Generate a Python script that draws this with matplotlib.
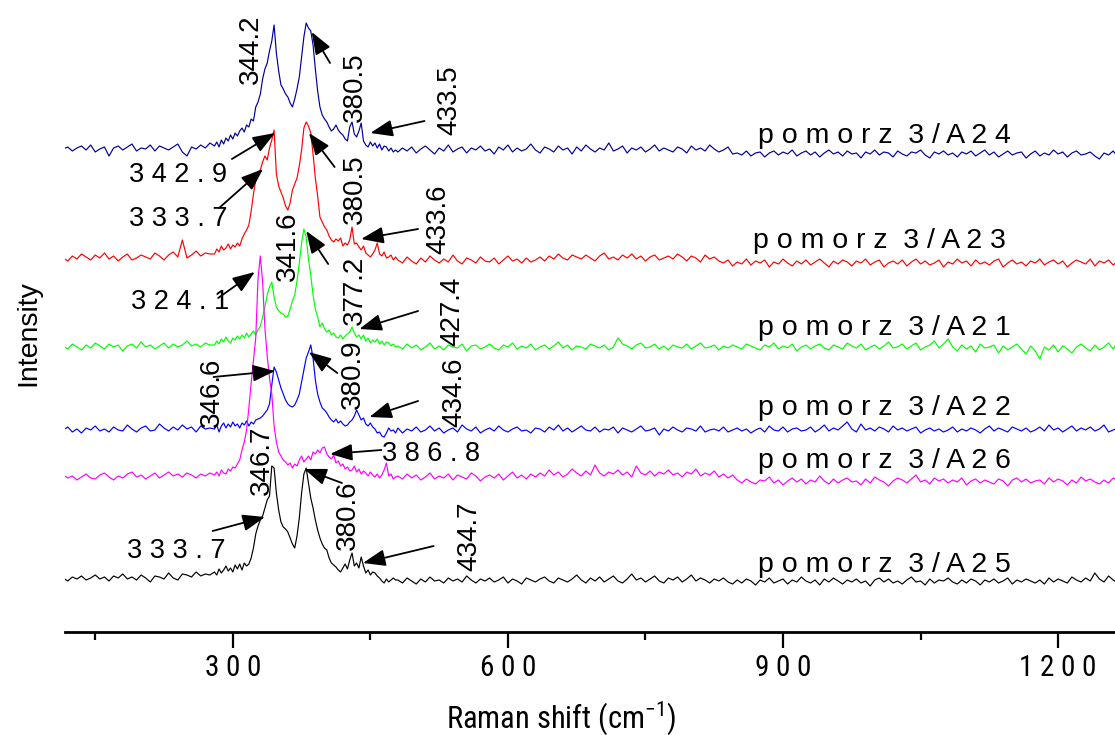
import numpy as np
import matplotlib
matplotlib.use("Agg")
import matplotlib.pyplot as plt
from matplotlib import font_manager

# pick a condensed face for the axis text if one is installed
_names = {f.name for f in font_manager.fontManager.ttflist}
NARROW, NARROW_SIZE = "Liberation Sans", 19
for cand in ("Liberation Sans Narrow", "DejaVu Sans Condensed", "Roboto Condensed", "Open Sans Condensed"):
    if cand in _names:
        NARROW, NARROW_SIZE = cand, 21
        break
plt.rcParams["font.family"] = ["Liberation Sans", "DejaVu Sans"]
plt.rcParams["mathtext.default"] = "regular"

# wavenumber sampling (cm-1): coarse baseline, finer around the bands
X_LEFT = np.arange(115, 276, 5)
X_PEAK = np.arange(280, 478, 2.5)
X_RIGHT = np.arange(480, 1266, 5)
WAVENUMBER = np.concatenate([X_LEFT, X_PEAK, X_RIGHT])

# intensities (a.u.) above each spectrum's own baseline
A24 = [0, 2, -2, 1, 3, -1, 4, -3, 0, 2, -7, 1, 3, -1, 2, 5, -2, 1, 0, 4, -2, 3, 1, -1, 2, 5, -3, -7, 2, 0, 4, 1, 6,
       3, 7, 2, 9, 5, 11, 8, 14, 10, 16,
       13, 18, 21, 17, 24, 22, 30, 28, 42, 47,
       55, 70, 80, 86, 98, 108, 124, 96, 78, 64,
       60, 55, 52, 46, 42, 50, 60, 72, 92, 112,
       126, 121, 118, 104, 80, 58, 42, 34, 30, 27,
       22, 18, 20, 24, 19, 16, 14, 10, 8, 22,
       27, 15, 12, 18, 26, 8, 4, 2, 7, 3,
       6, 1, 5, -1, 3, 2, -2, 1, -3, -1,
       -3, 1, -2, 2, -4, 0, 3, -1, -5, 1, -2, 4, -3, 0, 2, -4, 1, -1, 3, -2,
       0, -5, 2, -1, 4, -3, 1, -2, 0, 5, -1, -4, 2, 0, -3, 3, -1, 1, -5, 2,
       -2, 4, 0, -3, 1, -1, 6, -2, 0, 3, -4, 1, -1, 2, -3, 0, 4, -2, 1, -1,
       -3, 2, 0, -4, 3, -1, 1, -2, 4, 0, -3, -1, 2, -5, -4, -6, -2, -7, -4, -3,
       -8, -4, -2, -6, -3, -5, -1, -7, -4, -2, -6, -3, -8, -4, -1, -5, -3, -7, -2, -5,
       -4, -9, -3, -5, -1, -6, -3, -4, -8, -2, -5, -7, -3, -4, -1, -6, -9, -3, -5, -2,
       -6, -4, -8, -3, -5, -2, -7, -4, -1, -6, -3, -8, -5, -2, -6, -4, -3, -9, -5, -2,
       -7, -4, -6, -1, -5, -3, -8, -4, -2, -6, -5, -3, -7, -10, -4, -6, -2, -8]
A23 = [0, -3, 2, -1, 4, 1, -2, 3, 0, 5, -1, 2, -3, 1, 4, -2, 0, 3, 1, -1, 5, 2, -2, 3, 6, 1, 18, 0, 3, 7, 2, 5, 4,
       4, 9, 6, 12, 8, 10, 14, 9, 13, 11,
       15, 12, 19, 24, 28, 33, 47, 64, 78, 86,
       88, 96, 102, 98, 110, 118, 128, 84, 72, 66,
       60, 52, 48, 55, 68, 74, 80, 92, 108, 130,
       136, 132, 125, 104, 80, 62, 41, 36, 31, 28,
       22, 18, 16, 19, 17, 20, 12, 15, 13, 18,
       31, 14, 15, 11, 8, 12, 5, 3, 1, 4,
       8, 15, 4, 2, 6, 0, 1, 3, -2, 1,
       -2, -5, 1, -3, -6, 0, -4, 2, -2, -5, -1, -4, 3, -3, -6, 0, -2, -5, 1, -3,
       -4, 0, -6, -2, 2, -3, -1, -5, 0, -4, -2, 1, -3, 2, -1, 4, 0, -2, 3, 1,
       -1, 3, 0, -3, 2, 5, -1, 1, -2, 3, 0, 4, -1, 2, -3, 1, 3, -2, 0, 2,
       -1, 4, 1, -3, 2, 0, -4, 3, -1, 1, -3, -5, -2, -8, -4, -6, -1, -7, -3, -5,
       -2, -9, -4, -6, -1, -5, -8, -3, -6, -2, -7, -4, -1, -5, -9, -3, -6, -2, -4, -8,
       -3, -5, -1, -7, -4, -2, -9, -5, -3, -6, -2, -8, -4, -1, -6, -3, -7, -5, -2, -9,
       -4, -6, -1, -5, -3, -8, -2, -6, -4, -7, -3, -1, -9, -5, -2, -6, -4, -8, -3, -5,
       -1, -7, -4, -2, -6, -3, -9, -5, -2, -4, -6, -1, -8, -3, -5, -2, -7, -3]
A21 = [1, -2, 3, 0, -3, 2, -1, 4, 1, -2, 3, 0, 2, -4, 1, 3, -1, 5, 0, 2, -2, 1, 4, -1, 3, 0, 2, 6, 1, 3, 0, 4, 2,
       2, 6, 3, 8, 5, 10, 6, 4, 9, 7,
       11, 8, 12, 9, 14, 10, 13, 16, 12, 17,
       21, 30, 40, 52, 60, 65, 50, 40, 36, 34,
       33, 30, 31, 38, 46, 52, 66, 84, 104, 118,
       110, 88, 72, 52, 38, 30, 20, 24, 18, 15,
       17, 12, 14, 10, 9, 12, 8, 11, 13, 15,
       20, 14, 10, 12, 8, 12, 6, 9, 4, 7,
       5, 8, 3, 6, 2, 5, 4, 1, 3, 0,
       1, -2, 3, -1, 2, -3, 0, 4, -2, 1, -3, 2, 0, -1, 3, -4, 1, 2, -2, 0,
       3, -1, -3, 2, 0, 4, -2, 1, -1, 3, -3, 0, 2, -2, 1, 5, -1, 2, -3, 1,
       0, -2, 3, 1, -1, 2, -3, 0, 9, 3, 1, -2, 2, 4, -1, 0, 3, -2, 1, -3,
       2, 0, -1, 3, -2, 1, 4, -1, 0, 2, -3, 1, -1, 2, 0, -2, 3, 1, -1, -3,
       2, 0, 4, -2, 1, -1, 3, -4, 0, 2, -2, 1, 3, -1, -3, 2, 0, -2, 4, 1,
       -1, 3, -3, 0, 2, -2, 1, 5, -1, 0, 3, -2, 1, 4, -3, 0, 2, 6, -1, 3,
       8, 0, -4, 2, -2, 1, -5, 3, -1, 0, 2, -6, 1, -3, 0, 3, -2, -7, 1, -4,
       -12, 0, -3, 2, -5, 1, -2, -6, 0, 3, -1, -4, 2, -3, 0, 4, -2, 5]
A22 = [0, 3, -2, 1, -3, 2, 0, 4, -1, 1, -2, 3, 0, -1, 5, 1, -2, 2, 4, -1, 0, 6, 2, -1, 3, 0, 5, 1, 3, -2, 4, 1, 2,
       1, 5, -2, 4, 7, 2, 6, 3, 8, 4,
       6, 2, 7, 5, 9, 4, 8, 6, 10, 11,
       12, 14, 17, 20, 26, 45, 63, 58, 50, 42,
       36, 30, 26, 24, 23, 25, 30, 36, 48, 60,
       72, 78, 85, 72, 50, 36, 28, 22, 20, 17,
       13, 10, 8, 11, 7, 9, 6, 4, 5, 8,
       10, 14, 20, 15, 10, 12, 6, 4, 7, 3,
       1, -3, -2, -6, -7, -3, 2, -1, 0, -3,
       2, -3, 1, -1, 3, -2, 0, 4, -1, 2, -3, 0, 2, -2, 5, 1, -1, 3, -3, 0,
       2, -1, 4, 0, -2, 1, 3, -1, 0, -3, 2, 1, -2, 3, 0, 5, -1, 2, -2, 1,
       4, 0, -1, 3, -2, 1, 0, 3, -3, 2, 0, -2, 1, 4, -1, 0, 2, -5, 1, -1,
       3, 0, -2, 2, 1, -1, 4, -2, 0, 1, -1, 3, -2, 0, 2, -1, 1, -3, 0, 2,
       -2, 4, 0, -1, 3, -2, 1, 2, -1, 0, 3, -2, 1, 5, -1, 2, 0, 4, 8, 1,
       -2, 6, 0, 2, -1, 3, 1, -2, 4, 0, 2, -1, 1, 3, -3, 0, 2, -1, 1, -2,
       0, 3, -2, 1, -1, 2, 0, -3, 1, 4, -1, 2, 0, -2, 3, 1, -1, 2, -2, 0,
       3, -1, 5, 0, 2, -2, 1, 4, -1, 2, 0, 3, -1, 1, 5, -2, 0, 2]
A26 = [3, 0, 2, -2, 1, 4, 0, -1, 3, 5, 1, -2, 2, 0, 4, 6, 1, 3, -1, 2, 5, 0, 3, 6, 2, 4, 1, 5, 3, 0, 4, 2, 5,
       3, 6, 2, 8, 5, 4, 9, 7, 11, 10,
       14, 18, 28, 36, 48, 70, 95, 118, 140, 200,
       222, 196, 150, 122, 100, 84, 52, 36, 26, 22,
       18, 16, 13, 15, 10, 14, 12, 18, 22, 16,
       19, 22, 18, 26, 24, 28, 25, 30, 31, 24,
       21, 19, 23, 15, 17, 12, 14, 9, 11, 7,
       8, 12, 6, 9, 4, 7, 5, 2, 6, 3,
       1, 4, 0, 3, 8, 15, 2, 4, -1, 1,
       2, -1, 4, 0, 3, -2, 1, 5, -1, 2, 0, 4, -2, 3, 1, -1, 5, 2, -3, 1,
       3, 0, 4, -2, 2, 6, 0, 3, -1, 4, 1, 5, 2, 8, 3, 6, 1, 4, 9, 5,
       2, 7, 3, 13, 5, 2, 6, 4, 8, 3, 6, 1, 12, 5, 3, 7, 2, 6, 4, 8,
       3, 5, 1, 6, 4, 9, 2, 5, 3, 7, 1, 4, 0, 3, -2, -5, -1, -4, -6, -2,
       -3, 1, -5, -2, -7, -3, 0, -4, -1, -6, -2, -4, 2, -3, -6, -1, -5, -2, 0, -4,
       -3, -7, -1, -5, 1, -2, -4, -8, -3, 0, -2, -5, -1, 3, -4, -2, -6, 0, -3, -1,
       -5, -2, -4, 0, -7, -3, -1, -5, -2, -4, -6, -1, -3, -8, -2, 0, -4, -1, -5, -3,
       -2, -6, 0, -4, -1, -3, -7, -2, -5, 1, -3, -1, -4, -6, -2, -5, 0, -3]
A25 = [0, -3, 1, -1, 2, -2, 0, 3, -1, 1, -3, 2, 0, 4, -1, 1, -2, 3, 0, -4, 2, 1, -1, 5, 0, -2, 4, 3, 1, 6, 2, 4, 3,
       6, 3, 9, 5, 8, 12, 7, 10, 6, 13,
       9, 14, 8, 15, 12, 14, 20, 30, 44, 52,
       58, 62, 70, 78, 82, 112, 110, 85, 68, 56,
       51, 49, 46, 40, 34, 30, 42, 60, 85, 104,
       110, 95, 80, 70, 58, 48, 40, 34, 30, 28,
       20, 15, 13, 11, 8, 6, 10, 14, 9, 18,
       25, 12, 15, 10, 21, 12, 5, 8, 3, 6,
       5, 2, 0, -3, -5, -1, -4, -2, 0, -2,
       -2, -5, 0, -3, -6, -1, -4, 1, -3, -2, -5, 0, -3, -1, -4, 2, -2, -5, -1, -3,
       0, -4, -2, 1, -5, -1, -3, -6, 0, -2, -4, -1, 1, -3, -5, 0, -2, -4, -1, 3,
       -2, -5, 0, -3, 1, -4, -1, 2, -3, -5, -1, 4, -2, 0, -4, -1, 2, -3, -5, 0,
       -2, 1, -4, -1, 3, -3, 0, -2, -5, -1, -3, 0, -4, -6, -2, -5, -1, -3, -7, -2,
       -4, 0, -5, -3, -1, -6, -2, -4, 1, -3, -5, -2, -7, -1, -4, 0, -3, -6, -2, -4,
       -1, -5, -3, -8, -2, 0, -4, -1, -5, -3, -6, -2, 1, -4, -3, -7, -1, -5, -2, -3,
       0, -4, -6, -2, -5, -1, -3, -7, -2, -4, -1, -5, -3, 0, -6, -2, -4, -1, -3, -5,
       -2, -6, 0, -4, -1, -3, -5, 1, -2, -4, 0, -3, 5, -1, -4, 2, -2, -5]

SAMPLES = ["pomorz 3/A24", "pomorz 3/A23", "pomorz 3/A21", "pomorz 3/A22", "pomorz 3/A26", "pomorz 3/A25"]
SPECTRA = [A24, A23, A21, A22, A26, A25]
OFFSETS = [483, 374, 285, 202, 154, 54]
COLORS = ["#000099", "#ff0000", "#00ff00", "#0000ff", "#ff00ff", "#000000"]
# sample label anchor (centre x in cm-1, baseline y)
LABEL_POS = [(1011, 489), (1005, 384), (1011, 297), (1011, 217), (1011, 164), (1011, 60)]

# band labels: (text, text xy, arrow head xy or None, arrow tail xy, rotated?)
BANDS = [
    ("344.2", (320, 583), None, None, True),
    ("380.5", (433, 545), (386, 600), (406, 569), True),
    ("433.5", (536, 532), (450, 499), (509, 511), True),
    ("342.9", (240, 457), (346, 499), (299, 473), False),
    ("333.7", (241, 413), (333, 463), (285, 424), False),
    ("380.5", (433, 443), (383, 499), (411, 465), True),
    ("433.6", (524, 413), (440, 393), (502, 403), True),
    ("341.6", (360, 386), None, None, True),
    ("377.2", (433, 342), (380, 401), (404, 368), True),
    ("324.1", (243, 330), (324, 360), (284, 334), False),
    ("427.4", (539, 321), (438, 303), (502, 321), True),
    ("346.6", (277, 240), (346, 261), (279, 255), True),
    ("380.9", (431, 258), (383, 280), (414, 259), True),
    ("434.6", (542, 240), (449, 215), (502, 231), True),
    ("386.8", (516, 178), (406, 178), (462, 182), False),
    ("346.7", (332, 172), None, None, True),
    ("380.6", (426, 117), (378, 163), (419, 149), True),
    ("333.7", (238, 81), (335, 115), (278, 101), False),
    ("434.7", (558, 96), (442, 69), (519, 86), True),
]


def spaced(s):
    return " ".join(s)


fig = plt.figure(figsize=(11.15, 7.35), dpi=100)
ax = fig.add_axes([65 / 1115, 103 / 735, 1050 / 1115, 632 / 735])

for vals, off, col in zip(SPECTRA, OFFSETS, COLORS):
    ax.plot(WAVENUMBER, np.asarray(vals) + off, color=col, lw=0.85)

for name, (lx, ly) in zip(SAMPLES, LABEL_POS):
    word, code = name.split(" ")
    ax.text(lx, ly, spaced(word) + "  " + spaced(code), ha="center", va="baseline",
            fontsize=20.5)

for label, txy, head, tail, rot in BANDS:
    if rot:
        ax.text(txy[0], txy[1], label, rotation=90, ha="center", va="center", fontsize=20)
    else:
        ax.text(txy[0], txy[1], spaced(label), ha="center", va="center", fontsize=19.5)
    if head is not None:
        ax.annotate("", xy=head, xytext=tail,
                    arrowprops=dict(arrowstyle="-|>,head_length=0.85,head_width=0.32",
                                    mutation_scale=16, color="black", lw=1.3,
                                    shrinkA=0, shrinkB=0))

ax.set_xlim(117, 1262)
ax.set_ylim(0, 632)
for side in ("left", "right", "top"):
    ax.spines[side].set_visible(False)
ax.spines["bottom"].set_linewidth(2)
ax.set_yticks([])
ax.set_xticks([300, 600, 900, 1200])
ax.set_xticks([150, 450, 750, 1050], minor=True)
ax.set_xticklabels([spaced(str(t)) for t in (300, 600, 900, 1200)],
                   fontfamily=NARROW, fontsize=NARROW_SIZE)
ax.tick_params(axis="x", which="major", length=11.5, width=1.6, pad=4)
ax.tick_params(axis="x", which="minor", length=6, width=1.6)

fig.text(28 / 1115, 1 - 333 / 735, "Intensity", rotation=90, ha="center", va="center", fontsize=20.5)
fig.text(561 / 1115, 1 - 718 / 735, "Raman shift (cm$^{-1}$)", ha="center", va="center",
         fontfamily=NARROW, fontsize=NARROW_SIZE + 1)

fig.savefig("out.png", dpi=100)
